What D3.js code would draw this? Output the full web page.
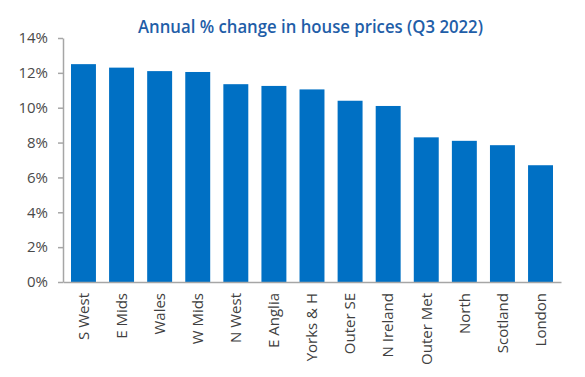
<!DOCTYPE html>
<html>
<head>
<meta charset="utf-8">
<script src="https://cdn.jsdelivr.net/npm/d3@7"></script>
<style>
  html, body { margin: 0; padding: 0; background: #fff; }
  svg { display: block; }
</style>
</head>
<body>
<svg id="chart" width="585" height="377"></svg>
<script>
const categories = ["S West", "E Mids", "Wales", "W Mids", "N West", "E Anglia", "Yorks & H", "Outer SE", "N Ireland", "Outer Met", "North", "Scotland", "London"];
const values = [12.5, 12.3, 12.1, 12.05, 11.35, 11.25, 11.05, 10.4, 10.1, 8.3, 8.1, 7.85, 6.7];
const yTicks = [0, 2, 4, 6, 8, 10, 12, 14];
const title = "Annual % change in house prices (Q3 2022)";

const svg = d3.select("#chart");
const mLeft = 63, mRight = 561, mTop = 38, mBottom = 282;

const x = d3.scaleBand().domain(categories).range([mLeft, mRight]).paddingInner(0.345).paddingOuter(0.21);
const y = d3.scaleLinear().domain([0, 14]).range([mBottom, mTop]);

const axisColor = "#a6a6a6";
const font = "'Open Sans', 'Noto Sans', sans-serif";

// Bars
svg.append("g").selectAll("rect").data(values).join("rect")
  .attr("x", (d, i) => x(categories[i]))
  .attr("width", x.bandwidth())
  .attr("y", d => y(d))
  .attr("height", d => y(0) - y(d))
  .attr("fill", "#0070c4");

// Y axis
const yAxis = svg.append("g").attr("transform", `translate(${mLeft},0)`)
  .call(d3.axisLeft(y).tickValues(yTicks).tickFormat(d => d + "%").tickSize(5).tickPadding(10).tickSizeOuter(0));
yAxis.select(".domain").attr("stroke", axisColor).attr("stroke-width", 1.5);
yAxis.selectAll(".tick line").attr("stroke", axisColor).attr("stroke-width", 1.5);
yAxis.selectAll(".tick text").attr("fill", "#4a4a4a").style("font-family", font).style("font-size", "15px");

// X axis
const xAxis = svg.append("g").attr("transform", `translate(0,${mBottom})`)
  .call(d3.axisBottom(x).tickSize(0).tickSizeOuter(0).tickPadding(0));
xAxis.select(".domain").attr("stroke", axisColor).attr("stroke-width", 1.5);
xAxis.selectAll(".tick text")
  .attr("fill", "#404040")
  .style("font-family", font).style("font-size", "15px")
  .attr("text-anchor", "end")
  .attr("transform", "rotate(-90)")
  .attr("x", -11).attr("y", 0).attr("dy", "0.35em");

// Title
svg.append("text")
  .attr("x", 310.5).attr("y", 32.5)
  .attr("text-anchor", "middle")
  .attr("fill", "#1f5ea8")
  .style("font-family", font).style("font-size", "18px").style("font-weight", 600)
  .attr("textLength", 345).attr("lengthAdjust", "spacingAndGlyphs")
  .text(title);
</script>
</body>
</html>
